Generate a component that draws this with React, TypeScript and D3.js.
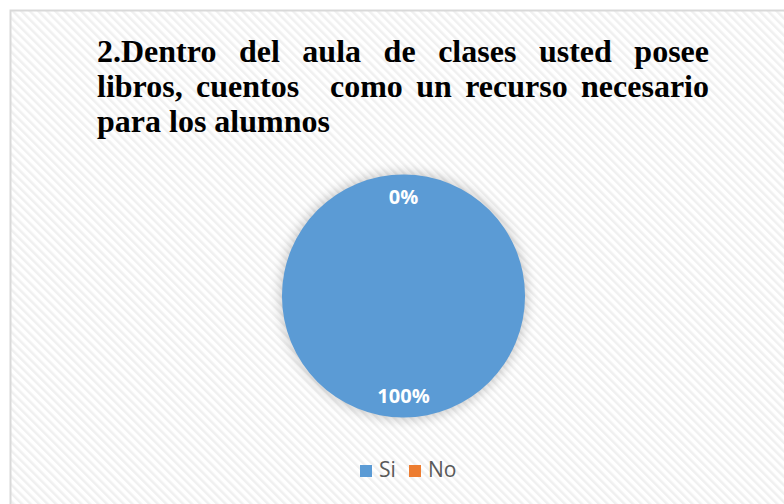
import React, { useEffect, useRef } from 'react';
import * as d3 from 'd3';

const categories = ['Si', 'No'];
const values = [100, 0];
const colors = ['#5b9bd5', '#ed7d31'];
const titleLines = [
  ['2.Dentro', 'del', 'aula', 'de', 'clases', 'usted', 'posee'],
  ['libros,', 'cuentos', 'como', 'un', 'recurso', 'necesario'],
  ['para', 'los', 'alumnos'],
];
// extra gap before "como" (several spaces in the original title)
const gapWeights = [
  [1, 1, 1, 1, 1, 1],
  [1, 2.3, 1, 1, 1],
  null,
];

const App = () => {
  const svgRef = useRef<SVGSVGElement>(null);

  useEffect(() => {
    const width = 784;
    const height = 504;
    const svg = d3.select(svgRef.current);
    svg.selectAll('*').remove();
    svg.attr('width', width).attr('height', height);

    const defs = svg.append('defs');
    const pat = defs.append('pattern')
      .attr('id', 'hatch')
      .attr('patternUnits', 'userSpaceOnUse')
      .attr('width', 6)
      .attr('height', 6)
      .attr('patternTransform', 'rotate(-45)');
    pat.append('rect').attr('width', 6).attr('height', 6).attr('fill', '#ffffff');
    pat.append('rect').attr('width', 2.5).attr('height', 6).attr('fill', '#f0f0f0');

    const shadow = defs.append('filter')
      .attr('id', 'glow')
      .attr('x', '-30%').attr('y', '-30%')
      .attr('width', '160%').attr('height', '160%');
    shadow.append('feGaussianBlur').attr('stdDeviation', 6);

    // chart area
    svg.append('rect')
      .attr('x', 10.5).attr('y', 10.5)
      .attr('width', 820).attr('height', 540)
      .attr('fill', 'url(#hatch)')
      .attr('stroke', '#d9d9d9')
      .attr('stroke-width', 2);

    // title, justified between left and right
    const left = 97;
    const right = 709;
    const baselines = [62, 97, 132];
    const title = svg.append('g')
      .style('font-family', "'Liberation Serif', 'Times New Roman', serif")
      .style('font-weight', 'bold')
      .style('font-size', '32px')
      .attr('fill', '#000');

    titleLines.forEach((words, i) => {
      const nodes = words.map(w => title.append('text').attr('y', baselines[i]).text(w));
      const widths = nodes.map(n => (n.node() as SVGTextElement).getComputedTextLength());
      const weights = gapWeights[i];
      let x = left;
      if (weights) {
        const free = right - left - d3.sum(widths);
        const unit = free / d3.sum(weights);
        nodes.forEach((n, j) => {
          n.attr('x', x);
          x += widths[j] + (j < weights.length ? weights[j] * unit : 0);
        });
      } else {
        const space = 8;
        nodes.forEach((n, j) => {
          n.attr('x', x);
          x += widths[j] + space;
        });
      }
    });

    // pie
    const cx = 403.5;
    const cy = 296;
    const r = 121.5;
    const pie = d3.pie<number>().sort(null).value(d => d);
    const arcs = pie(values);
    const arc = d3.arc<d3.PieArcDatum<number>>().innerRadius(0).outerRadius(r);
    const labelArc = d3.arc<d3.PieArcDatum<number>>().innerRadius(r * 0.815).outerRadius(r * 0.815);

    const g = svg.append('g').attr('transform', `translate(${cx},${cy})`);
    g.append('circle')
      .attr('r', r + 2)
      .attr('fill', '#000')
      .attr('opacity', 0.2)
      .attr('filter', 'url(#glow)');

    g.selectAll('path.slice')
      .data(arcs)
      .enter()
      .append('path')
      .attr('class', 'slice')
      .attr('d', arc)
      .attr('fill', (_, i) => colors[i]);

    g.selectAll('text.lbl')
      .data(arcs)
      .enter()
      .append('text')
      .attr('class', 'lbl')
      .attr('transform', d => {
        const [x, y] = labelArc.centroid(d);
        return `translate(${x},${y})`;
      })
      .attr('text-anchor', 'middle')
      .attr('dominant-baseline', 'central')
      .style('font-family', "'Open Sans', 'Liberation Sans', sans-serif")
      .style('font-weight', 'bold')
      .style('font-size', '20px')
      .attr('fill', '#ffffff')
      .text(d => `${d3.format('.0f')((d.value / d3.sum(values)) * 100)}%`);

    // legend
    const legendX = [360, 409];
    const legend = svg.append('g')
      .style('font-family', "'Open Sans', 'Liberation Sans', sans-serif")
      .style('font-size', '21px')
      .attr('fill', '#595959');
    categories.forEach((c, i) => {
      legend.append('rect')
        .attr('x', legendX[i]).attr('y', 465)
        .attr('width', 12).attr('height', 12)
        .attr('fill', colors[i]);
      legend.append('text')
        .attr('x', legendX[i] + 19).attr('y', 477)
        .text(c);
    });
  }, []);

  return <svg ref={svgRef} style={{ position: 'absolute', left: 0, top: 0 }}></svg>;
};

export default App;
